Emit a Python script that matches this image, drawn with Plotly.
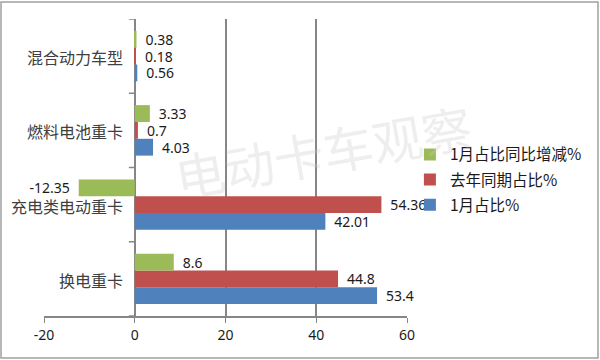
import plotly.graph_objects as go

categories = ["换电重卡", "充电类电动重卡", "燃料电池重卡", "混合动力车型"]
jan_share = [53.4, 42.01, 4.03, 0.56]
last_year_share = [44.8, 54.36, 0.7, 0.18]
yoy_change = [8.6, -12.35, 3.33, 0.38]
series_names = ["1月占比%", "去年同期占比%", "1月占比同比增减%"]
x_ticks = [-20, 0, 20, 40, 60]

colors = ["#4F81BD", "#C0504D", "#9BBB59"]
series = [jan_share, last_year_share, yoy_change]
ranks = [3, 2, 1]

fig = go.Figure()
for name, vals, c, rk in zip(series_names, series, colors, ranks):
    labels = [(" \u2009" + str(v)) if v >= 0 else (str(v) + " \u2009") for v in vals]
    fig.add_trace(go.Bar(
        y=categories, x=vals, name=name, orientation="h", legendgroup=name, legendrank=rk,
        marker=dict(color=c, line=dict(width=0)),
        text=labels, textposition="outside", cliponaxis=False, constraintext="none",
        textfont=dict(family="Noto Sans", size=14, color="#1a1a1a"),
    ))

annotations = []
for cat in categories:
    annotations.append(dict(x=0, y=cat, xref="x", yref="y", text=cat, showarrow=False,
                            xanchor="right", xshift=-10, yshift=-1,
                            font=dict(family="Noto Sans CJK SC", size=16, color="#404040")))
annotations.append(dict(x=0.769, y=0.559, xref="paper", yref="paper", text="电动卡车观察",
                        showarrow=False, textangle=-10, xanchor="center", yanchor="middle",
                        font=dict(family="Noto Sans CJK SC", size=50, color="rgba(200,200,200,0.3)")))

shapes = []
for i in range(len(categories) + 1):
    shapes.append(dict(type="line", xref="x", yref="y", x0=-1.3, x1=0, y0=i - 0.5, y1=i - 0.5,
                       line=dict(color="#868686", width=1.5)))
shapes.append(dict(type="rect", xref="paper", yref="paper", x0=-43/363, x1=(598-44)/363,
                   y0=-42/297, y1=(316-2)/297, line=dict(color="#A0A0A0", width=1.5)))

fig.update_layout(
    width=600, height=360,
    margin=dict(l=44, r=193, t=19, b=44),
    paper_bgcolor="white", plot_bgcolor="white",
    barmode="group", bargap=0.32, bargroupgap=0,
    legend=dict(x=1.008, y=0.6, xanchor="left", yanchor="top", traceorder="grouped",
                font=dict(family="Noto Sans CJK SC", size=15.5, color="#1a1a1a"),
                itemwidth=30, tracegroupgap=2, bgcolor="rgba(0,0,0,0)"),
    xaxis=dict(range=[-20, 60], tickvals=x_ticks, ticktext=[str(t) for t in x_ticks],
               showgrid=True, gridcolor="#868686", gridwidth=1.5,
               zeroline=True, zerolinecolor="#868686", zerolinewidth=1.5,
               showline=True, linecolor="#868686", linewidth=1.5,
               ticks="outside", ticklen=5, tickcolor="#868686",
               tickfont=dict(family="Noto Sans", size=14, color="#1a1a1a")),
    yaxis=dict(showticklabels=False, showgrid=False, showline=False, zeroline=False,
               range=[-0.5, 3.5]),
    annotations=annotations, shapes=shapes,
)
fig.write_html("out.html", config={"displayModeBar": False},
               post_script="document.body.style.margin='0';document.body.style.overflow='hidden';")
